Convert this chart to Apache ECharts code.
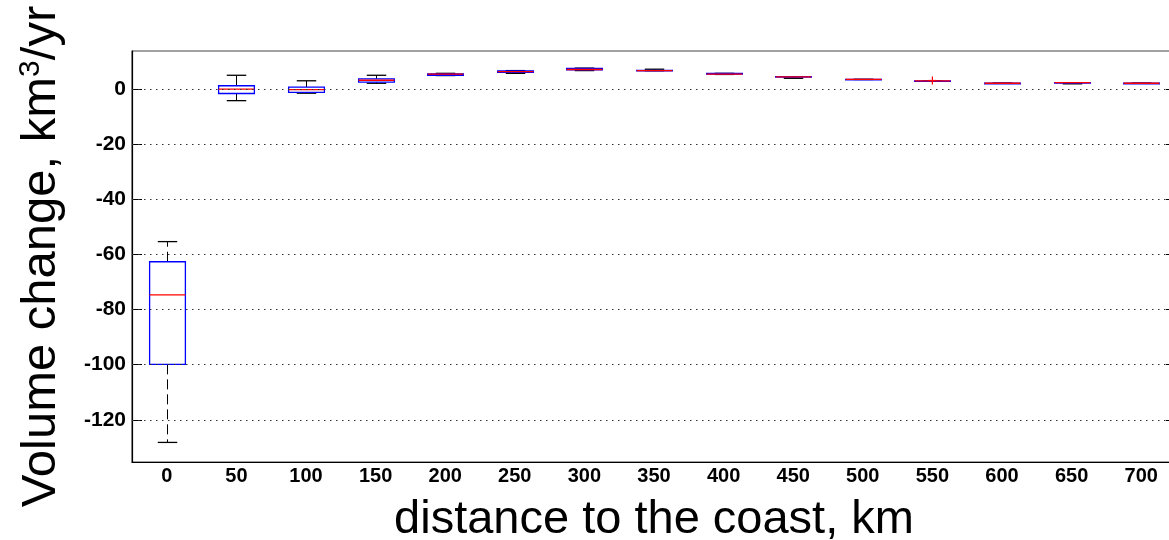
<!DOCTYPE html>
<html>
<head>
<meta charset="utf-8">
<script src="https://cdn.jsdelivr.net/npm/echarts@6/dist/echarts.min.js"></script>
<style>
  html, body { margin: 0; padding: 0; background: #fff; }
  #chart { width: 1169px; height: 540px; }
</style>
</head>
<body>
<div id="chart"></div>
<script>
// Distance bins along the coast (km)
const categories = ['0', '50', '100', '150', '200', '250', '300', '350', '400', '450', '500', '550', '600', '650', '700'];

// Box statistics per bin (km^3/yr)
const lowerWhisker = [-128.2, -4.3, -1.6, 2.0, 4.8, 5.6, 6.6, 6.55, 5.2, 3.8, 3.4, 2.9, 2.0, 1.8, 2.0];
const lowerQuartile = [-99.9, -1.7, -1.3, 2.4, 4.9, 6.0, 6.9, 6.6, 5.3, 4.2, 3.4, 2.9, 2.0, 2.2, 2.0];
const medians = [-74.7, -0.1, -0.3, 3.1, 5.3, 6.2, 7.0, 6.6, 5.3, 4.3, 3.4, 2.9, 2.0, 2.2, 2.0];
const upperQuartile = [-62.7, 1.1, 0.6, 3.6, 5.4, 6.5, 7.4, 6.65, 5.6, 4.4, 3.4, 2.9, 2.0, 2.2, 2.0];
const upperWhisker = [-55.4, 4.9, 2.9, 4.9, 5.6, 6.6, 7.5, 7.1, 5.6, 4.4, 3.4, 2.9, 2.0, 2.2, 2.0];

// Outliers: [bin index, value]
const outliers = [[11, 3.0]];

// Y tick values
const yTicks = [0, -20, -40, -60, -80, -100, -120];

const boxData = categories.map((c, i) => [i, lowerWhisker[i], lowerQuartile[i], medians[i], upperQuartile[i], upperWhisker[i]]);

const FONT = '"Liberation Sans", Arial, Helvetica, sans-serif';

function renderBox(params, api) {
  const x = api.value(0);
  const lw = api.coord([x, api.value(1)]);
  const q1 = api.coord([x, api.value(2)]);
  const md = api.coord([x, api.value(3)]);
  const q3 = api.coord([x, api.value(4)]);
  const uw = api.coord([x, api.value(5)]);
  const band = api.size([1, 0])[0];
  const cx = Math.round(lw[0]) + 0.5;
  const halfBox = band * 0.257;
  const halfCap = band * 0.14;
  const whiskerStyle = { stroke: '#000', lineWidth: 1, lineDash: [10, 5] };
  const capStyle = { stroke: '#000', lineWidth: 1.3 };
  const children = [];
  children.push({ type: 'line', shape: { x1: cx, y1: q3[1], x2: cx, y2: uw[1] }, style: whiskerStyle });
  children.push({ type: 'line', shape: { x1: cx, y1: q1[1], x2: cx, y2: lw[1] }, style: whiskerStyle });
  children.push({ type: 'line', shape: { x1: cx - halfCap, y1: uw[1], x2: cx + halfCap, y2: uw[1] }, style: capStyle });
  children.push({ type: 'line', shape: { x1: cx - halfCap, y1: lw[1], x2: cx + halfCap, y2: lw[1] }, style: capStyle });
  children.push({
    type: 'rect',
    shape: { x: cx - halfBox, y: q3[1], width: halfBox * 2, height: Math.max(q1[1] - q3[1], 0.5) },
    style: { fill: null, stroke: '#0000ff', lineWidth: 1.3 }
  });
  children.push({ type: 'line', shape: { x1: cx - halfBox, y1: md[1], x2: cx + halfBox, y2: md[1] }, style: { stroke: '#ff0000', lineWidth: 1.3 } });
  return { type: 'group', children: children };
}

function renderOutlier(params, api) {
  const p = api.coord([api.value(0), api.value(1)]);
  const s = 4;
  return {
    type: 'group',
    children: [
      { type: 'line', shape: { x1: p[0] - s, y1: p[1], x2: p[0] + s, y2: p[1] }, style: { stroke: '#ff0000', lineWidth: 1.2 } },
      { type: 'line', shape: { x1: p[0], y1: p[1] - s, x2: p[0], y2: p[1] + s }, style: { stroke: '#ff0000', lineWidth: 1.2 } }
    ]
  };
}

const chart = echarts.init(document.getElementById('chart'), null, { renderer: 'canvas' });

const yMin = -135.3, yMax = 13.7;

chart.setOption({
  animation: false,
  backgroundColor: '#ffffff',
  grid: {
    left: 132, top: 51, right: -7, bottom: 78,
    show: true, borderColor: '#444', borderWidth: 1.2,
    containLabel: false, outerBoundsMode: 'none'
  },
  xAxis: {
    type: 'category',
    data: categories,
    boundaryGap: true,
    axisLine: { onZero: false, lineStyle: { color: '#000', width: 1.2 } },
    axisTick: { show: false },
    axisLabel: { color: '#000', fontSize: 20, fontWeight: 'bold', fontFamily: FONT, margin: 4, interval: 0 },
    splitLine: { show: false },
    name: 'distance to the coast, km',
    nameLocation: 'middle',
    nameGap: 35,
    nameTextStyle: { color: '#000', fontSize: 47, fontFamily: FONT }
  },
  yAxis: [{
    type: 'value',
    min: yMin,
    max: yMax,
    position: 'left',
    axisLine: { show: true, lineStyle: { color: '#000', width: 1.2 } },
    axisTick: { show: true, inside: true, length: 10, customValues: yTicks, lineStyle: { color: '#000' } },
    axisLabel: { color: '#000', fontSize: 21, fontWeight: 'bold', fontFamily: FONT, margin: 6, customValues: yTicks },
    splitLine: { show: false },
    name: 'Volume change, km{sup|3}/yr',
    nameLocation: 'middle',
    nameGap: 66,
    nameTextStyle: {
      color: '#000', fontSize: 49, fontFamily: FONT,
      rich: { sup: { fontSize: 30, fontFamily: FONT, color: '#000', verticalAlign: 'top', padding: [0, 0, 20, 0] } }
    }
  }, {
    type: 'value',
    min: yMin,
    max: yMax,
    position: 'right',
    axisLine: { show: false },
    axisTick: { show: true, inside: true, length: 10, customValues: yTicks, lineStyle: { color: '#000' } },
    axisLabel: { show: false },
    splitLine: { show: false }
  }],
  series: [{
    type: 'custom',
    name: 'grid',
    data: [],
    renderItem: () => null,
    markLine: {
      silent: true,
      symbol: 'none',
      label: { show: false },
      lineStyle: { color: '#333', width: 1.2, type: [1.5, 4.5] },
      data: yTicks.map(v => ({ yAxis: v }))
    }
  }, {
    type: 'custom',
    name: 'boxes',
    data: boxData,
    encode: { x: 0, y: [1, 2, 3, 4, 5] },
    renderItem: renderBox,
    z: 3
  }, {
    type: 'custom',
    name: 'outliers',
    data: outliers,
    encode: { x: 0, y: 1 },
    renderItem: renderOutlier,
    z: 4
  }]
});
</script>
</body>
</html>
